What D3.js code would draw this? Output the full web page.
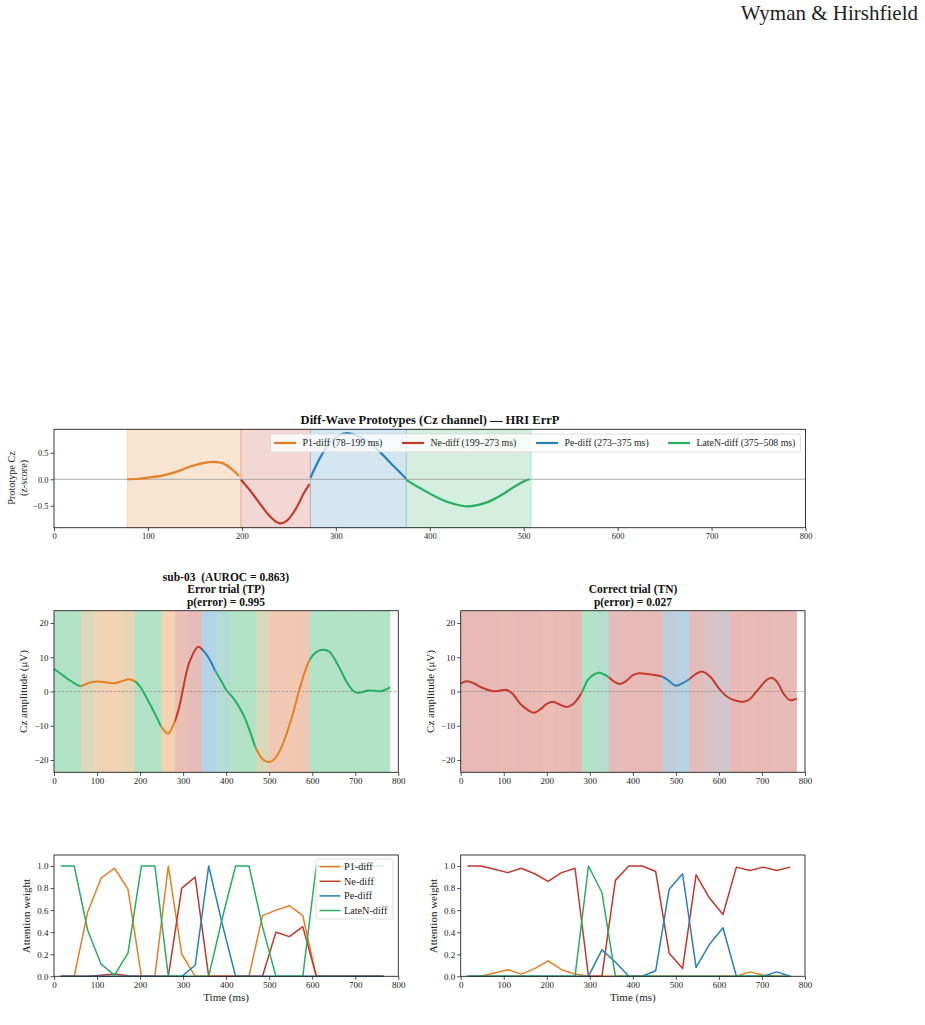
<!DOCTYPE html>
<html>
<head>
<meta charset="utf-8">
<script src="https://cdn.jsdelivr.net/npm/d3@7"></script>
<style>
  body { margin: 0; background: #fff; }
  svg text { font-family: "Liberation Serif", "Times New Roman", serif; }
</style>
</head>
<body>
<div id="chart"></div>
<script>
const width = 925;
const height = 1025;

// prototypes
const protoNames = ["P1-diff", "Ne-diff", "Pe-diff", "LateN-diff"];
const protoWindows = ["78–199 ms", "199–273 ms", "273–375 ms", "375–508 ms"];
const protoStart = [78, 199, 273, 375];
const protoEnd = [199, 273, 375, 508];
const protoColors = ["#e67e22", "#c0392b", "#2980b9", "#27ae60"];

// prototype waveforms (z-score), [ms, value]
const p1Proto = [[78, 0], [90, 0.01], [100, 0.03], [115, 0.07], [130, 0.14], [145, 0.24], [160, 0.31], [170, 0.33], [180, 0.30], [190, 0.18], [197, 0.06]];
const neProto = [[199, -0.01], [210, -0.24], [220, -0.48], [230, -0.70], [240, -0.83], [248, -0.78], [258, -0.54], [266, -0.26], [272, -0.09]];
const peProto = [[273, 0.03], [285, 0.46], [295, 0.72], [305, 0.84], [312, 0.87], [320, 0.84], [335, 0.71], [350, 0.46], [362, 0.24], [375, 0.01]];
const lateNProto = [[375, -0.01], [390, -0.17], [410, -0.36], [425, -0.46], [440, -0.51], [460, -0.44], [475, -0.31], [490, -0.14], [500, -0.04], [506, 0.0]];
const protoCurves = [p1Proto, neProto, peProto, lateNProto];

// single trials, Cz amplitude (µV), [ms, value]
const errSignal = [[0, 6.6], [20, 4.8], [40, 3.0], [62, 1.6], [80, 2.5], [100, 2.9], [120, 2.7], [140, 2.4], [160, 3.1], [175, 3.6], [190, 2.8], [200, 1.4], [220, -3.0], [240, -7.9], [250, -10.4], [265, -12.3], [280, -8.9], [290, -5.0], [300, 0.9], [315, 8.7], [335, 13.1], [345, 12.2], [360, 9.7], [375, 6.0], [390, 2.8], [400, 0.5], [420, -2.5], [440, -6.8], [455, -11.5], [470, -16.8], [485, -19.8], [497, -20.6], [510, -20.0], [525, -17.2], [540, -12.5], [555, -6.5], [570, 0.5], [585, 6.5], [595, 9.5], [610, 11.6], [625, 12.2], [640, 11.6], [660, 7.7], [680, 2.8], [695, 0.2], [705, -0.4], [715, -0.2], [730, 0.3], [745, 0.2], [760, 0.1], [781, 1.2]];
const corSignal = [[0, 2.4], [15, 3.0], [30, 2.4], [50, 1.1], [75, 0.1], [90, 0.2], [105, 0.5], [120, -0.6], [140, -3.8], [160, -5.7], [170, -6.2], [185, -5.2], [200, -3.6], [215, -3.0], [230, -3.8], [245, -4.5], [260, -3.8], [280, -0.6], [295, 3.3], [310, 5.0], [322, 5.5], [340, 4.5], [360, 2.6], [370, 2.2], [385, 3.1], [400, 4.8], [415, 5.3], [440, 5.0], [465, 4.5], [480, 3.5], [500, 1.7], [515, 2.4], [530, 3.5], [545, 5.0], [562, 5.8], [580, 4.3], [600, 0.9], [620, -1.6], [640, -2.7], [655, -3.0], [670, -2.4], [690, 0.4], [710, 3.3], [722, 4.0], [735, 2.8], [750, -0.6], [765, -2.5], [781, -2.1]];

// attention windows
const attnTimes = [15.6, 46.9, 78.1, 109.4, 140.6, 171.9, 203.1, 234.4, 265.6, 296.9, 328.1, 359.4, 390.6, 421.9, 453.1, 484.4, 515.6, 546.9, 578.1, 609.4, 640.6, 671.9, 703.1, 734.4, 765.6];
const windowMs = 31.25;

// error trial attention weights
const errP1 = [0, 0, 0.58, 0.89, 0.98, 0.79, 0, 0, 1.0, 0.2, 0, 0, 0, 0, 0, 0.55, 0.6, 0.64, 0.55, 0, 0, 0, 0, 0, 0];
const errNe = [0, 0, 0, 0.01, 0.02, 0.005, 0, 0, 0, 0.8, 0.9, 0, 0, 0, 0, 0, 0.4, 0.36, 0.45, 0, 0, 0, 0, 0, 0];
const errPe = [0, 0, 0, 0, 0, 0, 0, 0, 0, 0, 0.1, 1.0, 0.48, 0, 0, 0, 0, 0, 0, 0, 0, 0, 0, 0, 0];
const errLateN = [1, 1, 0.42, 0.11, 0.01, 0.21, 1, 1, 0, 0, 0, 0, 0.52, 1, 1, 0.45, 0, 0, 0, 1, 1, 1, 1, 1, 1];

// correct trial attention weights
const corP1 = [0, 0, 0.03, 0.06, 0.02, 0.07, 0.14, 0.06, 0.02, 0, 0, 0, 0, 0, 0, 0, 0, 0, 0, 0, 0, 0.04, 0.01, 0, 0];
const corNe = [1, 1, 0.97, 0.94, 0.98, 0.93, 0.86, 0.94, 0.98, 0, 0, 0.87, 1, 1, 0.95, 0.21, 0.07, 0.92, 0.71, 0.56, 0.99, 0.96, 0.99, 0.96, 0.99];
const corPe = [0, 0, 0, 0, 0, 0, 0, 0, 0, 0, 0.24, 0.13, 0, 0, 0.05, 0.79, 0.93, 0.08, 0.29, 0.44, 0, 0, 0, 0.04, 0];
const corLateN = [0, 0, 0, 0, 0, 0, 0, 0, 0, 1, 0.76, 0, 0, 0, 0, 0, 0, 0, 0, 0, 0, 0, 0, 0, 0];

const errWeights = [errP1, errNe, errPe, errLateN];
const corWeights = [corP1, corNe, corPe, corLateN];

const xTicks = [0, 100, 200, 300, 400, 500, 600, 700, 800];

const svg = d3.select("#chart").append("svg")
  .attr("width", width)
  .attr("height", height);

svg.append("rect").attr("width", width).attr("height", height).attr("fill", "#fff");
const defs = svg.append("defs");

// page header
svg.append("text")
  .attr("x", 918).attr("y", 20)
  .attr("text-anchor", "end")
  .attr("font-size", 21)
  .attr("fill", "#222")
  .text("Wyman & Hirshfield");

function makePanel(box, yDomain) {
  const x = d3.scaleLinear().domain([0, 800]).range([box.x0, box.x1]);
  const y = d3.scaleLinear().domain(yDomain).range([box.y1, box.y0]);
  return { box, x, y };
}

function drawAxes(p, yTicks, yFormat, fs) {
  const gx = svg.append("g")
    .attr("transform", `translate(0,${p.box.y1})`)
    .call(d3.axisBottom(p.x).tickValues(xTicks).tickSize(3.5).tickPadding(2).tickFormat(d3.format("d")));
  const gy = svg.append("g")
    .attr("transform", `translate(${p.box.x0},0)`)
    .call(d3.axisLeft(p.y).tickValues(yTicks).tickSize(3.5).tickPadding(2).tickFormat(yFormat));
  [gx, gy].forEach(g => {
    g.select(".domain").remove();
    g.selectAll("text").attr("font-family", "Liberation Serif, Times New Roman, serif").attr("font-size", fs).attr("fill", "#222");
    g.selectAll("line").attr("stroke", "#222").attr("stroke-width", 0.8);
  });
  svg.append("rect")
    .attr("x", p.box.x0).attr("y", p.box.y0)
    .attr("width", p.box.x1 - p.box.x0).attr("height", p.box.y1 - p.box.y0)
    .attr("fill", "none").attr("stroke", "#222").attr("stroke-width", 0.9);
}

function yLabel(lines, x, yc, fs) {
  lines.forEach((t, i) => {
    svg.append("text")
      .attr("transform", `translate(${x[i]},${yc}) rotate(-90)`)
      .attr("text-anchor", "middle")
      .attr("font-size", fs)
      .attr("fill", "#222")
      .text(t);
  });
}

function title(lines, xc, y0, fs, step) {
  lines.forEach((t, i) => {
    svg.append("text")
      .attr("x", xc).attr("y", y0 + i * step)
      .attr("text-anchor", "middle")
      .attr("font-size", fs)
      .attr("font-weight", "bold")
      .attr("fill", "#111")
      .style("white-space", "pre")
      .text(t);
  });
}

// mix a set of weights into one colour, then over white with alpha
function blend(ws, alpha) {
  const tot = d3.sum(ws) || 1;
  let r = 0, g = 0, b = 0;
  ws.forEach((w, k) => {
    const c = d3.rgb(protoColors[k]);
    r += w / tot * c.r; g += w / tot * c.g; b += w / tot * c.b;
  });
  return d3.rgb(255 - alpha * (255 - r), 255 - alpha * (255 - g), 255 - alpha * (255 - b)).formatHex();
}

// ================= top: prototypes =================
const topPanel = makePanel({ x0: 54, x1: 805.5, y0: 429.3, y1: 527.7 }, [-0.913, 0.943]);

protoNames.forEach((n, k) => {
  svg.append("rect")
    .attr("x", topPanel.x(protoStart[k])).attr("y", topPanel.box.y0)
    .attr("width", topPanel.x(protoEnd[k]) - topPanel.x(protoStart[k]))
    .attr("height", topPanel.box.y1 - topPanel.box.y0)
    .attr("fill", protoColors[k]).attr("fill-opacity", 0.2)
    .attr("stroke", protoColors[k]).attr("stroke-opacity", 0.2).attr("stroke-width", 1);
});

svg.append("line")
  .attr("x1", topPanel.box.x0).attr("x2", topPanel.box.x1)
  .attr("y1", topPanel.y(0)).attr("y2", topPanel.y(0))
  .attr("stroke", "#999").attr("stroke-width", 0.8);

const topLine = d3.line().x(d => topPanel.x(d[0])).y(d => topPanel.y(d[1])).curve(d3.curveCatmullRom);
protoCurves.forEach((c, k) => {
  svg.append("path").attr("d", topLine(c))
    .attr("fill", "none").attr("stroke", protoColors[k]).attr("stroke-width", 2.2);
});

drawAxes(topPanel, [-0.5, 0, 0.5], d3.format(".1f"), 8.5);

// legend
const topLeg = svg.append("g");
topLeg.append("rect")
  .attr("x", 270.5).attr("y", 434).attr("width", 530).attr("height", 18).attr("rx", 2)
  .attr("fill", "#fff").attr("fill-opacity", 0.8).attr("stroke", "#d6d6d6").attr("stroke-width", 0.8);
const topLegX = [274, 402, 536, 668];
protoNames.forEach((n, k) => {
  topLeg.append("line")
    .attr("x1", topLegX[k]).attr("x2", topLegX[k] + 22)
    .attr("y1", 443).attr("y2", 443)
    .attr("stroke", protoColors[k]).attr("stroke-width", 2.2);
  topLeg.append("text")
    .attr("x", topLegX[k] + 28.5).attr("y", 446.4)
    .attr("font-size", 9.8).attr("fill", "#222")
    .text(`${n} (${protoWindows[k]})`);
});

title(["Diff-Wave Prototypes (Cz channel) — HRI ErrP"], 430, 424.3, 12.5, 0);
yLabel(["Prototype Cz", "(z-score)"], [15, 27], 478, 10.2);

// ================= middle: single trials =================
function trialPanel(box, signal, weights, id) {
  const p = makePanel(box, [-23.6, 23.6]);
  const n = attnTimes.length;
  const per = attnTimes.map((t, i) => weights.map(w => w[i]));

  // background bands
  per.forEach((ws, i) => {
    const a = p.x(attnTimes[i] - windowMs / 2);
    const b = p.x(attnTimes[i] + windowMs / 2);
    svg.append("rect")
      .attr("x", a).attr("y", p.box.y0)
      .attr("width", b - a + (i < n - 1 ? 0.6 : 0))
      .attr("height", p.box.y1 - p.box.y0)
      .attr("fill", blend(ws, 0.35));
  });

  svg.append("line")
    .attr("x1", p.box.x0).attr("x2", p.box.x1)
    .attr("y1", p.y(0)).attr("y2", p.y(0))
    .attr("stroke", "#888").attr("stroke-width", 0.7).attr("stroke-dasharray", "2.5,1.5");

  // signal coloured by dominant prototype
  const segs = [];
  per.forEach((ws, i) => {
    const k = d3.maxIndex(ws);
    const a = attnTimes[i] - windowMs / 2, b = attnTimes[i] + windowMs / 2;
    if (segs.length && segs[segs.length - 1].k === k) segs[segs.length - 1].b = b;
    else segs.push({ k, a, b });
  });
  const line = d3.line().x(d => p.x(d[0])).y(d => p.y(d[1])).curve(d3.curveCatmullRom);
  segs.forEach((s, j) => {
    const cid = `${id}-clip-${j}`;
    const xa = j === 0 ? p.x(s.a) - 3 : p.x(s.a);
    const xb = j === segs.length - 1 ? p.x(s.b) + 3 : p.x(s.b);
    defs.append("clipPath").attr("id", cid).append("rect")
      .attr("x", xa).attr("y", p.box.y0 - 5)
      .attr("width", xb - xa).attr("height", p.box.y1 - p.box.y0 + 10);
    svg.append("path").attr("d", line(signal))
      .attr("clip-path", `url(#${cid})`)
      .attr("fill", "none").attr("stroke", protoColors[s.k]).attr("stroke-width", 2);
  });

  drawAxes(p, [-20, -10, 0, 10, 20], d3.format("d"), 9);
  return p;
}

const errPanel = trialPanel({ x0: 54, x1: 398.3, y0: 610.7, y1: 772.3 }, errSignal, errWeights, "err");
const corPanel = trialPanel({ x0: 460.7, x1: 805, y0: 610.7, y1: 772.3 }, corSignal, corWeights, "cor");

title(["sub-03  (AUROC = 0.863)", "Error trial (TP)", "p(error) = 0.995"], 226, 580.5, 11.5, 12.6);
title(["Correct trial (TN)", "p(error) = 0.027"], 633, 593.1, 11.5, 12.6);
yLabel(["Cz amplitude (μV)"], [27], 691.5, 11);
yLabel(["Cz amplitude (μV)"], [434], 691.5, 11);

// ================= bottom: attention weights =================
function attnPanel(box, weights) {
  const p = makePanel(box, [0, 1.1]);
  const line = d3.line().x((d, i) => p.x(attnTimes[i])).y(d => p.y(d));
  weights.forEach((w, k) => {
    svg.append("path").attr("d", line(w))
      .attr("fill", "none").attr("stroke", protoColors[k]).attr("stroke-width", 1.5)
      .attr("stroke-linejoin", "round");
  });
  drawAxes(p, [0, 0.2, 0.4, 0.6, 0.8, 1.0], d3.format(".1f"), 9);
  svg.append("text")
    .attr("x", (box.x0 + box.x1) / 2).attr("y", 1001)
    .attr("text-anchor", "middle").attr("font-size", 11).attr("fill", "#222")
    .text("Time (ms)");
  return p;
}

const errAttn = attnPanel({ x0: 54, x1: 398.3, y0: 855, y1: 976.3 }, errWeights);
const corAttn = attnPanel({ x0: 460.7, x1: 805, y0: 855, y1: 976.3 }, corWeights);
yLabel(["Attention weight"], [30], 916, 11);
yLabel(["Attention weight"], [437], 916, 11);

// legend on the error-trial attention panel
const botLeg = svg.append("g");
botLeg.append("rect")
  .attr("x", 316).attr("y", 859).attr("width", 77).attr("height", 60).attr("rx", 2)
  .attr("fill", "#fff").attr("fill-opacity", 0.8).attr("stroke", "#d6d6d6").attr("stroke-width", 0.8);
protoNames.forEach((n, k) => {
  const yy = 866.7 + k * 14.6;
  botLeg.append("line")
    .attr("x1", 319.5).attr("x2", 340.5).attr("y1", yy).attr("y2", yy)
    .attr("stroke", protoColors[k]).attr("stroke-width", 1.5);
  botLeg.append("text")
    .attr("x", 344).attr("y", yy + 3.5)
    .attr("font-size", 10.2).attr("fill", "#222")
    .text(n);
});
</script>
</body>
</html>
